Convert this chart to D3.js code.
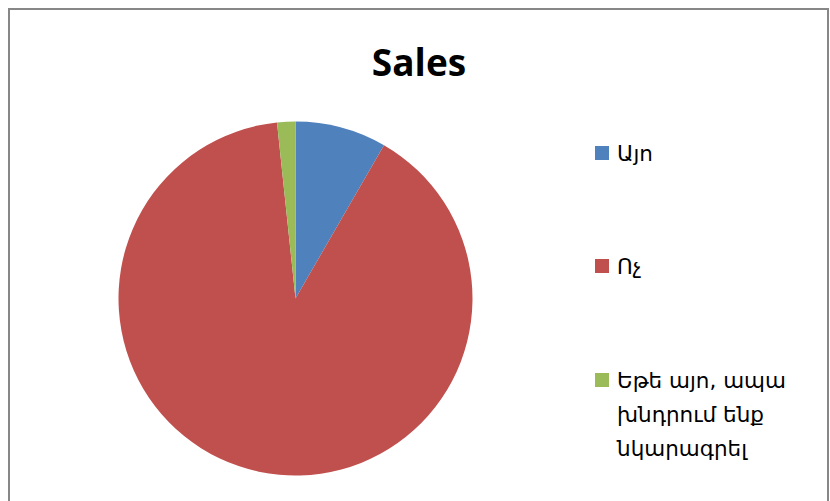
<!DOCTYPE html>
<html>
<head>
<meta charset="utf-8">
<script src="https://cdn.jsdelivr.net/npm/d3@7"></script>
<style>
  body { margin: 0; background: #fff; }
</style>
</head>
<body>
<div id="chart"></div>
<script>
const width = 830, height = 501;

// Dữ liệu
const categories = ["Այո", "Ոչ", "Եթե այո, ապա խնդրում ենք նկարագրել"];
const legendLines = [["Այո"], ["Ոչ"], ["Եթե այո, ապա", "խնդրում ենք", "նկարագրել"]];
const values = [5, 54, 1];
const colors = ["#4F81BD", "#C0504D", "#9BBB59"];

const svg = d3.select("#chart")
    .append("svg")
    .attr("width", width)
    .attr("height", height);

// Khung viền
svg.append("rect")
    .attr("x", 9)
    .attr("y", 9)
    .attr("width", 819)
    .attr("height", 520)
    .attr("fill", "none")
    .attr("stroke", "#878787")
    .attr("stroke-width", 2);

// Tiêu đề
svg.append("text")
    .attr("x", 419)
    .attr("y", 76)
    .attr("text-anchor", "middle")
    .style("font-family", "'Open Sans', sans-serif")
    .style("font-weight", "bold")
    .style("font-size", "37px")
    .text("Sales");

const data = categories.map((c, i) => ({ name: c, value: values[i], color: colors[i] }));

const pie = d3.pie()
    .sort(null)
    .value(d => d.value);

const arc = d3.arc()
    .innerRadius(0)
    .outerRadius(177);

const g = svg.append("g")
    .attr("transform", "translate(295.5,298.5)");

g.selectAll("path")
    .data(pie(data))
    .enter()
    .append("path")
    .attr("d", arc)
    .attr("fill", d => d.data.color);

// Chú thích
const legendY = [146, 259, 373];
const legend = svg.append("g");

data.forEach((d, i) => {
    const row = legend.append("g")
        .attr("transform", `translate(595, ${legendY[i]})`);

    row.append("rect")
        .attr("width", 14)
        .attr("height", 14)
        .attr("fill", d.color);

    const text = row.append("text")
        .attr("x", 22)
        .attr("y", 15)
        .style("font-family", "'DejaVu Sans', sans-serif")
        .style("font-size", "21.5px")
        .style("fill", "#000");

    legendLines[i].forEach((line, j) => {
        text.append("tspan")
            .attr("x", 22)
            .attr("dy", j === 0 ? 0 : 34)
            .text(line);
    });
});
</script>
</body>
</html>
